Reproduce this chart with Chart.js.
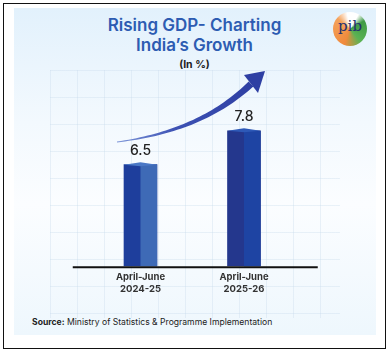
<!DOCTYPE html>
<html>
<head>
<meta charset="utf-8">
<script src="https://cdn.jsdelivr.net/npm/chart.js@4"></script>
<style>
  body { margin: 0; width: 389px; height: 352px; background: #fff; font-family: Inter, "Open Sans", sans-serif; overflow: hidden; }
  #frame { position: absolute; left: 3px; top: 3px; width: 381px; height: 344px; border: 1.5px solid #111; }
  #panel { position: absolute; left: 14px; top: 8px; width: 362px; height: 327px;
    background: linear-gradient(180deg, #e2f1fc 0%, #f3f9fe 35%, #fbfdff 60%, #eef7fd 100%); }
  #grid { position: absolute; left: 50px; top: 70px; width: 290px; height: 248px;
    background-image: linear-gradient(90deg, rgba(200,218,235,0.35) 1px, transparent 1px),
                      linear-gradient(180deg, rgba(200,218,235,0.35) 1px, transparent 1px);
    background-size: 27px 27px; }
  .title { position: absolute; left: 0; width: 389px; text-align: center; color: #2d5cb2; font-weight: 600; font-size: 17px; }
  #unit { position: absolute; left: 0; width: 389px; top: 58px; text-align: center; font-weight: 700; font-size: 10.5px; color: #222; }
  #logo { position: absolute; left: 333px; top: 12px; width: 34px; height: 34px; border-radius: 50%;
    background: conic-gradient(from 200deg, #f08a3c 0deg, #f4a25c 110deg, #ffffff 150deg, #ffffff 190deg, #3f9a46 220deg, #5bb354 300deg, #f08a3c 360deg); }
  #logo span { position: absolute; left: 0; width: 34px; top: 5px; text-align: center; font-family: "DejaVu Serif", serif; font-size: 15px; color: #24306e; }
  #source { position: absolute; left: 32px; top: 317px; font-size: 8.6px; color: #222; }
  canvas { position: absolute; left: 14px; top: 60px; }
</style>
</head>
<body>
<div id="frame"></div>
<div id="panel"></div>
<div id="grid"></div>
<div class="title" style="top:15px">Rising GDP- Charting</div>
<div class="title" style="top:35px">India’s Growth</div>
<div id="unit">(In %)</div>
<div id="logo"><span>pib</span></div>
<div id="source"><b>Source:</b> Ministry of Statistics &amp; Programme Implementation</div>
<canvas id="gdpChart" width="362" height="250"></canvas>
<script>
// values
const periods = [["April-June", "2024-25"], ["April-June", "2025-26"]];
const gdpGrowth = [6.5, 7.8];

const frontColors = ["#1e3e9c", "#24378d"];
const sideColors = ["#3e6ab6", "#1e44a3"];
const capColors = ["#4a78c6", "#2e59b7"];

// canvas sits at page (14, 60)
const OX = 14, OY = 60;

const barLook = {
  id: "barLook",
  afterDatasetsDraw(chart) {
    const ctx = chart.ctx;
    const a = chart.chartArea;
    const meta = chart.getDatasetMeta(0);
    ctx.save();
    meta.data.forEach((bar, i) => {
      const half = bar.width / 2;
      const left = bar.x - half, right = bar.x + half;
      const bottom = Math.min(bar.base, a.bottom);
      // right face
      ctx.fillStyle = sideColors[i];
      ctx.fillRect(bar.x, bar.y, half, bottom - bar.y);
      // top cap
      ctx.fillStyle = capColors[i];
      ctx.beginPath();
      ctx.moveTo(left, bar.y);
      ctx.lineTo(bar.x, bar.y + 1.5);
      ctx.lineTo(right, bar.y);
      ctx.lineTo(bar.x, bar.y - 2.5);
      ctx.closePath();
      ctx.fill();
      // value
      ctx.fillStyle = "#222";
      ctx.font = "500 14px Inter, sans-serif";
      ctx.textAlign = "center";
      ctx.textBaseline = "middle";
      ctx.fillText(gdpGrowth[i].toFixed(1), bar.x, bar.y - 14);
    });
    // baseline
    ctx.strokeStyle = "#111";
    ctx.lineWidth = 2;
    ctx.beginPath();
    ctx.moveTo(a.left - 16, a.bottom + 1);
    ctx.lineTo(a.right + 22, a.bottom + 1);
    ctx.stroke();
    ctx.restore();
  },
  afterDraw(chart) {
    // rising arrow
    const ctx = chart.ctx;
    const P = [[117, 142], [170, 135], [215, 118], [251, 84]].map(p => [p[0] - OX, p[1] - OY]);
    const pt = t => {
      const u = 1 - t;
      return [
        u*u*u*P[0][0] + 3*u*u*t*P[1][0] + 3*u*t*t*P[2][0] + t*t*t*P[3][0],
        u*u*u*P[0][1] + 3*u*u*t*P[1][1] + 3*u*t*t*P[2][1] + t*t*t*P[3][1]
      ];
    };
    const upper = [], lower = [];
    const n = 40;
    for (let k = 0; k <= n; k++) {
      const t = k / n;
      const a = pt(Math.max(0, t - 0.01)), b = pt(Math.min(1, t + 0.01));
      let dx = b[0] - a[0], dy = b[1] - a[1];
      const len = Math.hypot(dx, dy);
      dx /= len; dy /= len;
      const w = 0.4 + 3.0 * t;
      const p = pt(t);
      upper.push([p[0] - dy * w, p[1] + dx * w]);
      lower.push([p[0] + dy * w, p[1] - dx * w]);
    }
    const g = ctx.createLinearGradient(P[0][0], P[0][1], P[3][0], P[3][1]);
    g.addColorStop(0, "#7d96d8");
    g.addColorStop(0.4, "#3d52b4");
    g.addColorStop(1, "#2e3fa3");
    ctx.save();
    ctx.fillStyle = g;
    ctx.beginPath();
    upper.forEach((p, k) => k ? ctx.lineTo(p[0], p[1]) : ctx.moveTo(p[0], p[1]));
    lower.reverse().forEach(p => ctx.lineTo(p[0], p[1]));
    ctx.closePath();
    ctx.fill();
    // head
    ctx.fillStyle = "#2e3fa3";
    ctx.beginPath();
    ctx.moveTo(265 - OX, 71 - OY);
    ctx.lineTo(244 - OX, 75 - OY);
    ctx.lineTo(258 - OX, 93 - OY);
    ctx.closePath();
    ctx.fill();
    ctx.restore();
  }
};

new Chart(document.getElementById("gdpChart"), {
  type: "bar",
  data: {
    labels: periods,
    datasets: [{
      data: gdpGrowth,
      backgroundColor: frontColors,
      barThickness: 33
    }]
  },
  options: {
    responsive: false,
    animation: false,
    layout: { padding: { left: 74.75, right: 80.25, top: 20, bottom: 10 } },
    plugins: { legend: { display: false }, tooltip: { enabled: false } },
    scales: {
      y: { display: false, min: 2.6, max: 9.75 },
      x: {
        grid: { display: false, drawTicks: false },
        border: { display: false },
        ticks: { color: "#333", padding: 5, font: { size: 9.5, weight: "bold", family: "Inter, sans-serif", lineHeight: 1.25 } }
      }
    }
  },
  plugins: [barLook]
});
</script>
</body>
</html>
